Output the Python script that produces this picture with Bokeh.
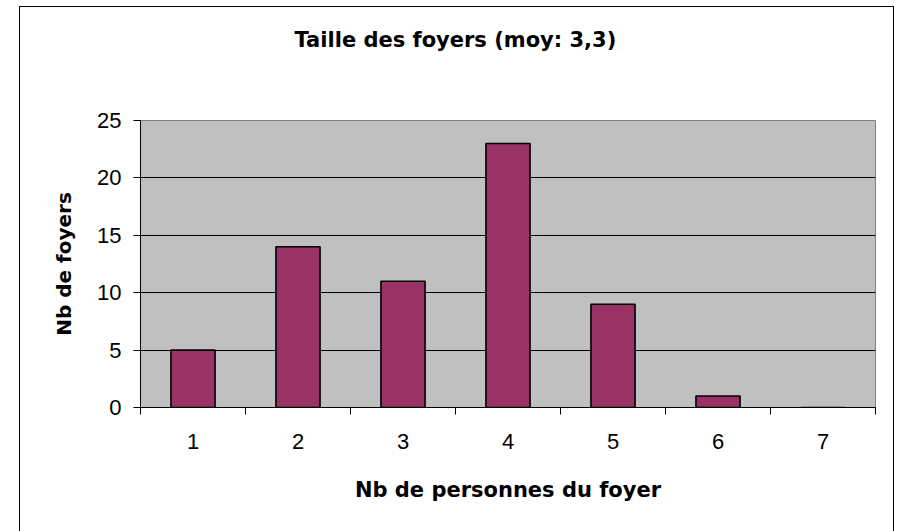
from bokeh.plotting import figure
from bokeh.models import Range1d, FixedTicker, SingleIntervalTicker, Title
from bokeh.embed import file_html
from bokeh.resources import INLINE

# Data
household_sizes = [1, 2, 3, 4, 5, 6, 7]
household_counts = [5, 14, 11, 23, 9, 1, 0]
size_boundaries = [0.5, 1.5, 2.5, 3.5, 4.5, 5.5, 6.5, 7.5]
title_text = "Taille des foyers (moy: 3,3)"
x_label = "Nb de personnes du foyer"
y_label = "Nb de foyers"

p = figure(width=875, height=525, output_backend="svg", toolbar_location=None,
           x_range=Range1d(0.5, 7.5), y_range=Range1d(0, 25),
           min_border_left=120, min_border_right=20,
           min_border_top=113, min_border_bottom=125)
p.margin = (6, 0, 0, 19)
p.styles = {"border-left": "1px solid black", "border-right": "1px solid black",
            "border-top": "1px solid black"}

p.background_fill_color = "#C0C0C0"
p.border_fill_color = "white"
p.outline_line_color = "#808080"
p.outline_line_width = 1

# spacer next to the plot area (first = innermost), then the title (outermost)
spacer = Title(text=".", text_font_size="1px", text_color="white", standoff=66)
p.add_layout(spacer, "above")
main_title = Title(text=title_text, align="left", offset=154, standoff=0,
                   text_font="DejaVu Sans", text_font_style="bold",
                   text_font_size="21px", text_color="black")
p.add_layout(main_title, "above")

p.vbar(x=household_sizes, top=household_counts, width=0.42,
       fill_color="#993366", line_color="black", line_width=1.6)

# x axis
xa = p.xaxis[0]
xa.ticker = FixedTicker(ticks=household_sizes, minor_ticks=size_boundaries)
xa.major_tick_in = 0
xa.major_tick_out = 0
xa.minor_tick_in = 0
xa.minor_tick_out = 7
xa.minor_tick_line_color = "black"
xa.axis_line_color = "black"
xa.major_label_text_font = "Liberation Sans"
xa.major_label_text_font_size = "22px"
xa.major_label_text_color = "black"
xa.major_label_standoff = 19
xa.axis_label = x_label
xa.axis_label_text_font = "DejaVu Sans"
xa.axis_label_text_font_style = "bold"
xa.axis_label_text_font_size = "21px"
xa.axis_label_text_color = "black"
xa.axis_label_standoff = 26

# y axis
ya = p.yaxis[0]
ya.ticker = SingleIntervalTicker(interval=5, num_minor_ticks=0)
ya.major_tick_in = 0
ya.major_tick_out = 7
ya.minor_tick_line_color = None
ya.axis_line_color = "black"
ya.major_tick_line_color = "black"
ya.major_label_text_font = "Liberation Sans"
ya.major_label_text_font_size = "22px"
ya.major_label_text_color = "black"
ya.major_label_standoff = 12
ya.axis_label = y_label
ya.axis_label_text_font = "DejaVu Sans"
ya.axis_label_text_font_style = "bold"
ya.axis_label_text_font_size = "20px"
ya.axis_label_text_color = "black"
ya.axis_label_standoff = 18

p.xgrid.grid_line_color = None
p.ygrid.grid_line_color = "black"
p.ygrid.grid_line_width = 1

open("out.html", "w").write(file_html(p, INLINE))
